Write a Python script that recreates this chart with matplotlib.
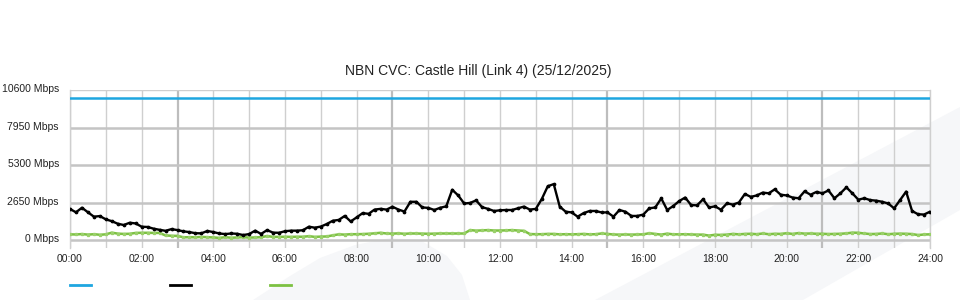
import numpy as np
import matplotlib
matplotlib.use("Agg")
import matplotlib.pyplot as plt
import matplotlib.transforms as mtransforms
from matplotlib.lines import Line2D
from matplotlib.patches import Polygon

plt.rcParams['font.family'] = ['Liberation Sans', 'DejaVu Sans']

# ---- data (10 minute samples, 00:00 .. 24:00) ----
title = "NBN CVC: Castle Hill (Link 4) (25/12/2025)"
capacity_mbps = 10000
traffic_mbps = [
    2190, 1960, 2280, 1960, 1650, 1690,
    1460, 1330, 1150, 1060, 1220, 1170,
    940, 920, 800, 720, 650, 770,
    700, 610, 560, 480, 470, 640,
    560, 460, 420, 460, 440, 350,
    420, 660, 430, 700, 520, 510,
    620, 660, 660, 690, 940, 870,
    950, 1130, 1360, 1420, 1700, 1310,
    1600, 1900, 1850, 2150, 2200, 2150,
    2350, 2150, 2010, 2700, 2700, 2300,
    2270, 2120, 2280, 2380, 3550, 3150,
    2580, 2620, 2800, 2320, 2200, 2050,
    2100, 2120, 2120, 2240, 2360, 2150,
    2200, 2900, 3800, 3950, 2360, 2000,
    1950, 1650, 1900, 2050, 2050, 1950,
    1950, 1650, 2120, 2000, 1700, 1700,
    1800, 2240, 2300, 2940, 2120, 2400,
    2750, 3000, 2470, 2450, 2880, 2300,
    2380, 2140, 2590, 2500, 2650, 3250,
    3050, 3150, 3350, 3300, 3580, 3200,
    3150, 3000, 2950, 3440, 3200, 3400,
    3300, 3500, 2950, 3300, 3720, 3300,
    2850, 2950, 2820, 2780, 2700, 2580,
    2240, 2830, 3420, 2050, 1820, 1800,
    2000,
]
upload_mbps = [
    400, 390, 420, 380, 410, 370,
    400, 520, 450, 430, 440, 500,
    510, 510, 500, 500, 320, 300,
    290, 190, 200, 190, 220, 200,
    180, 150, 200, 160, 180, 200,
    170, 180, 200, 280, 220, 220,
    230, 220, 230, 230, 270, 220,
    240, 250, 330, 400, 380, 410,
    410, 420, 440, 470, 510, 460,
    450, 470, 440, 460, 460, 450,
    440, 450, 460, 460, 460, 460,
    460, 700, 660, 680, 700, 670,
    670, 680, 700, 670, 650, 420,
    410, 410, 430, 430, 400, 410,
    400, 410, 430, 400, 410, 460,
    430, 390, 380, 390, 380, 390,
    400, 480, 430, 380, 450, 400,
    400, 410, 390, 380, 380, 310,
    370, 360, 380, 430, 400, 430,
    440, 410, 460, 410, 440, 430,
    480, 430, 490, 450, 460, 440,
    440, 420, 430, 440, 470, 520,
    510, 460, 420, 430, 460, 410,
    440, 450, 440, 420, 350, 390,
    400,
]
y_ticks = [0, 2650, 5300, 7950, 10600]
x_tick_hours = list(range(0, 25, 2))
x_tick_labels = ["%02d:00" % h for h in x_tick_hours]

hours = np.arange(len(traffic_mbps)) / 6.0

fig = plt.figure(figsize=(9.6, 3.0), dpi=100)

# faint background swooshes (behind everything)
def px(pts):
    return [(x / 960, 1 - y / 300) for x, y in pts]
for pts in ([(595, 300), (960, 107), (960, 210), (803, 300)],
            [(253, 300), (290, 276), (320, 258), (355, 245), (390, 238),
             (420, 240), (447, 256), (462, 275), (470, 300)]):
    fig.patches.append(Polygon(px(pts), closed=True, transform=fig.transFigure,
                               facecolor='#f6f7f9', edgecolor='none', zorder=-5))

ax = fig.add_axes([70 / 960, 1 - 248 / 300, 860 / 960, 158 / 300])
ax.set_zorder(2)
ax.patch.set_alpha(0)

ax.set_xlim(0, 24)
ax.set_ylim(-565, 10600)

# grid
for h in range(25):
    if h % 6 == 3:
        ax.axvline(h, color='#bdbdbd', lw=1.6, zorder=1)
    else:
        ax.axvline(h, color='#cfcfcf', lw=1.0, zorder=1)
for v in y_ticks[:-1]:
    ax.axhline(v, color='#c4c4c4', lw=1.8, zorder=1)
ax.axhline(y_ticks[-1], color='#cfcfcf', lw=1.0, zorder=1)

for s in ['top', 'bottom']:
    ax.spines[s].set_visible(False)
for s in ['left', 'right']:
    ax.spines[s].set_color('#cfcfcf')
    ax.spines[s].set_linewidth(1.0)

ax.plot(hours, [capacity_mbps] * len(hours), color='#1ea6e0', lw=1.8, zorder=3)
ax.plot(hours, upload_mbps, color='#7cc142', lw=1.8, marker='s', ms=1.4,
        mec='#9ad06a', mfc='#9ad06a', zorder=3)
ax.plot(hours, traffic_mbps, color='#000000', lw=1.7, marker='o', ms=1.7, zorder=4)

ax.set_xticks(x_tick_hours)
ax.set_xticklabels(x_tick_labels)
ax.set_yticks(y_ticks)
ax.set_yticklabels(["%d Mbps" % v for v in y_ticks])
ax.tick_params(length=0, labelsize=7.5, colors='#222222')
ax.tick_params(axis='y', pad=8)
ax.tick_params(axis='x', pad=4)
up = mtransforms.ScaledTranslation(0, 2 / 100, fig.dpi_scale_trans)
for lab in ax.get_yticklabels():
    lab.set_transform(lab.get_transform() + up)

fig.text(0.498, 1 - 71 / 300, title, ha='center', va='center', fontsize=10, color='#222222')

# legend swatches (no labels)
for x0, c in [(70, '#1ea6e0'), (170, '#000000'), (270, '#7cc142')]:
    fig.add_artist(Line2D([x0 / 960, (x0 + 21) / 960], [1 - 285 / 300] * 2,
                          transform=fig.transFigure, color=c, lw=2))

fig.savefig('out.png', dpi=100)
